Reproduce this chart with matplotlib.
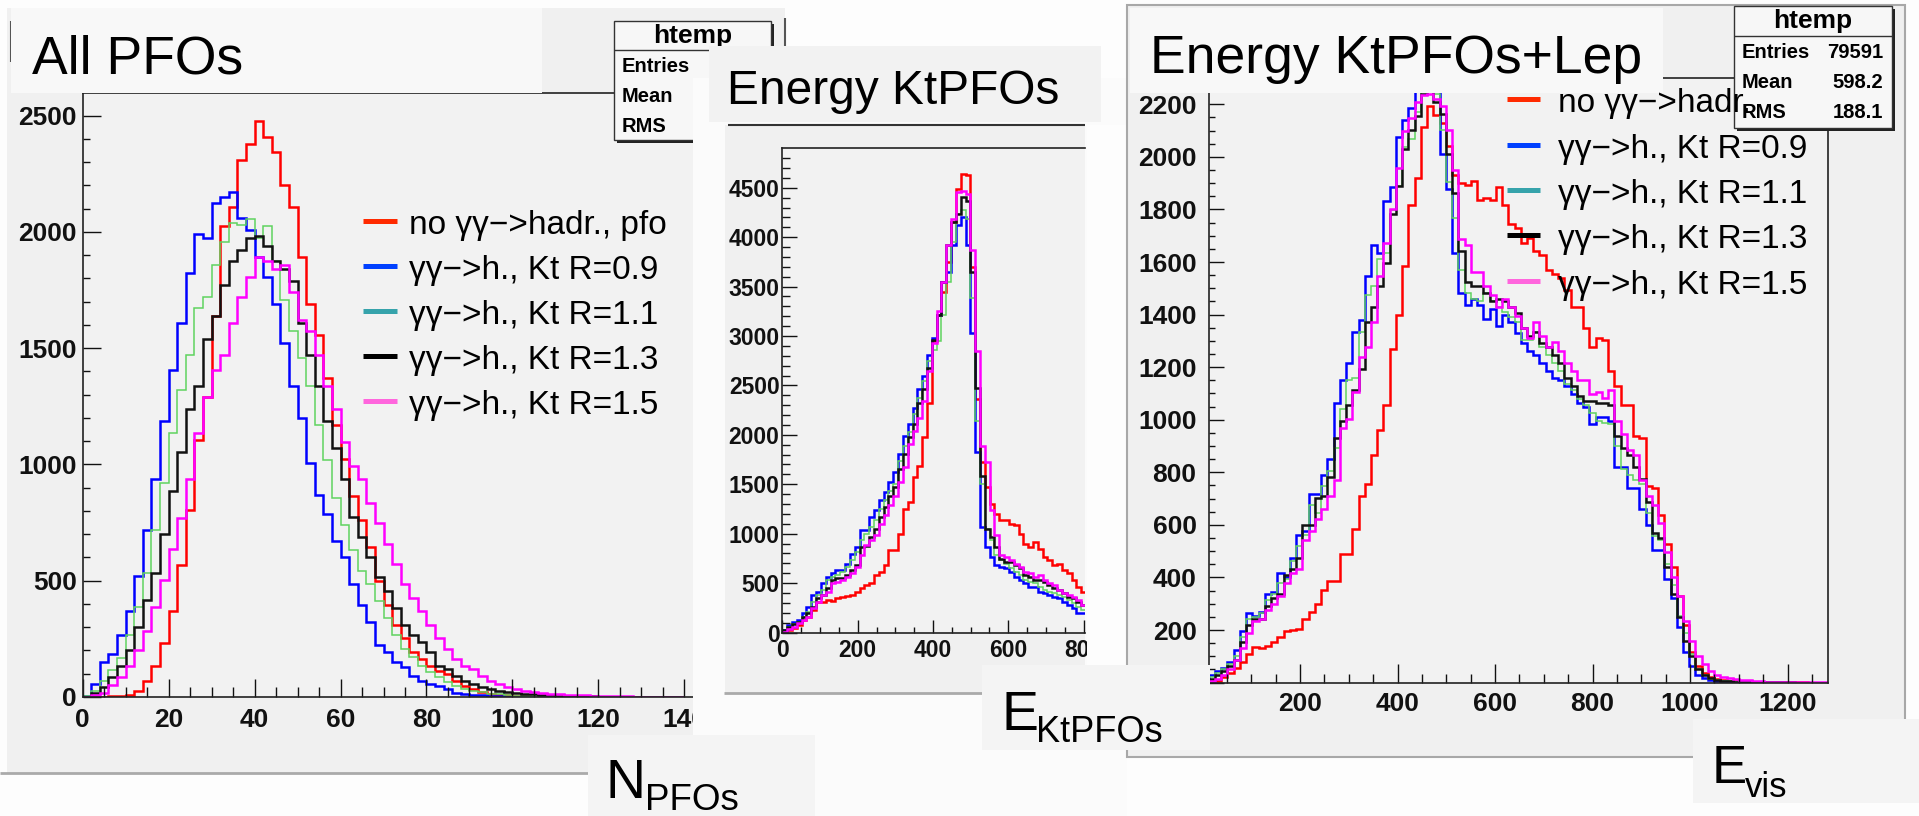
import numpy as np
from matplotlib import pyplot as plt
from matplotlib.patches import Rectangle
from matplotlib.lines import Line2D
from matplotlib.ticker import MultipleLocator

plt.rcParams['font.family'] = ['Liberation Sans', 'DejaVu Sans']
plt.rcParams['font.weight'] = 'bold'

W, H = 1919, 816

# ---- panel 1: number of PFOs, bins of width 2 starting at 0
NPFO_BIN = 2
npfo_red = [0, 0, 2, 3, 5, 10, 25, 67, 134, 234,
            368, 569, 803, 1104, 1288, 1640, 2024, 2108, 2309, 2376,
            2476, 2409, 2342, 2200, 2108, 1890, 1690, 1556, 1372, 1170,
            1023, 863, 761, 645, 499, 397, 310, 252, 194, 164,
            135, 113, 99, 70, 48, 33, 22, 15, 10, 7,
            5, 3, 2, 2, 1, 1, 1, 1, 0, 0,
            0, 0, 0, 0, 0, 0, 0, 0, 0, 0]
npfo_blue = [5, 58, 150, 184, 268, 368, 519, 719, 937, 1188,
             1405, 1606, 1824, 1991, 1974, 2125, 2150, 2170, 2058, 2008,
             1890, 1807, 1690, 1522, 1338, 1200, 1004, 870, 786, 669,
             601, 485, 397, 324, 223, 194, 150, 128, 92, 70,
             55, 48, 33, 19, 15, 10, 7, 5, 3, 2,
             1, 1, 1, 1, 0, 0, 0, 0, 0, 0,
             0, 0, 0, 0, 0, 0, 0, 0, 0, 0]
npfo_green = [3, 25, 67, 117, 167, 268, 385, 535, 719, 920,
              1137, 1321, 1471, 1672, 1722, 1856, 1956, 2039, 2031, 2056,
              1974, 2023, 1873, 1707, 1573, 1456, 1338, 1171, 1021, 854,
              740, 630, 543, 485, 412, 339, 266, 208, 172, 135,
              106, 84, 63, 48, 33, 26, 20, 15, 11, 8,
              6, 4, 3, 2, 2, 1, 1, 1, 1, 0,
              0, 0, 0, 0, 0, 0, 0, 0, 0, 0]
npfo_black = [2, 17, 42, 84, 134, 201, 301, 418, 535, 702,
              886, 1054, 1238, 1338, 1539, 1640, 1773, 1873, 1923, 1974,
              1980, 1940, 1873, 1840, 1790, 1606, 1471, 1338, 1188, 1071,
              936, 776, 688, 601, 514, 455, 383, 310, 266, 237,
              194, 135, 121, 92, 70, 55, 41, 33, 26, 22,
              18, 15, 12, 10, 8, 6, 5, 4, 3, 3,
              2, 2, 2, 1, 1, 1, 1, 1, 0, 0]
npfo_magenta = [0, 8, 17, 50, 84, 134, 201, 284, 385, 502,
                635, 770, 937, 1137, 1288, 1405, 1471, 1606, 1722, 1807,
                1890, 1873, 1840, 1857, 1740, 1623, 1573, 1471, 1338, 1238,
                1096, 994, 936, 834, 746, 659, 572, 485, 426, 368,
                310, 252, 208, 164, 135, 121, 92, 70, 55, 41,
                33, 26, 22, 18, 15, 12, 10, 8, 7, 6,
                5, 4, 3, 3, 2, 2, 2, 1, 1, 1]

# ---- panel 2: energy of Kt PFOs, bins of 12.8 starting at 0
E_BIN = 12.8
ekt_red = [10, 27, 44, 77, 128, 161, 228, 312, 312, 329,
           320, 346, 362, 369, 379, 413, 446, 480, 497, 581,
           614, 681, 832, 832, 1000, 1252, 1319, 1571, 1688, 1973,
           2326, 2947, 3215, 3450, 3752, 4155, 4490, 4641, 4624, 3702,
           2359, 1722, 1470, 1302, 1201, 1134, 1134, 1101, 1084, 1000,
           899, 866, 916, 849, 765, 732, 681, 698, 631, 597,
           530, 463, 413]
ekt_blue = [27, 77, 111, 128, 195, 262, 379, 413, 497, 564,
            597, 631, 631, 698, 799, 866, 1034, 1034, 1168, 1235,
            1336, 1420, 1520, 1621, 1806, 1990, 2108, 2275, 2460, 2594,
            2812, 2980, 3215, 3551, 3651, 3920, 4121, 4205, 3920, 3030,
            1822, 1067, 866, 765, 681, 664, 648, 614, 564, 530,
            497, 463, 463, 413, 396, 379, 362, 346, 312, 279,
            245, 195, 195]
ekt_green = [20, 54, 87, 111, 154, 211, 312, 379, 430, 530,
             564, 581, 614, 664, 732, 815, 933, 1000, 1067, 1134,
             1252, 1336, 1436, 1503, 1738, 1889, 2024, 2208, 2376, 2544,
             2745, 2863, 2947, 3215, 3551, 3953, 4239, 4272, 4188, 3383,
             2141, 1503, 1050, 933, 782, 732, 698, 648, 614, 581,
             530, 513, 497, 463, 430, 413, 396, 379, 362, 329,
             295, 262, 228]
ekt_black = [27, 60, 87, 111, 161, 195, 262, 346, 379, 446,
             530, 547, 547, 581, 631, 681, 866, 873, 967, 1050,
             1168, 1269, 1386, 1470, 1655, 1806, 1973, 2108, 2326, 2460,
             2678, 2963, 3215, 3551, 3920, 4155, 4239, 4406, 4363, 3651,
             2477, 1587, 1050, 967, 866, 748, 715, 715, 681, 648,
             581, 564, 530, 530, 513, 480, 446, 430, 396, 362,
             346, 312, 279]
ekt_magenta = [10, 34, 60, 94, 128, 161, 245, 312, 379, 413,
               497, 513, 530, 564, 597, 664, 782, 883, 933, 983,
               1101, 1185, 1285, 1386, 1520, 1671, 1906, 2040, 2175, 2342,
               2644, 2930, 3249, 3551, 3920, 4188, 4457, 4463, 4440, 3869,
               2846, 1889, 1722, 1235, 983, 782, 765, 732, 698, 664,
               614, 597, 564, 581, 530, 497, 480, 430, 396, 379,
               362, 329, 279]

# ---- panel 3: visible energy incl. leptons, bins of 12.8 starting at 12.8
evis_red = [6, 6, 21, 35, 57, 79, 109, 134, 131, 138,
            153, 172, 197, 201, 204, 241, 270, 299, 351, 387,
            387, 490, 490, 585, 710, 754, 864, 960, 1055, 1268,
            1400, 1583, 1818, 1921, 2112, 2192, 2160, 2130, 2040, 1930,
            1900, 1892, 1910, 1835, 1845, 1835, 1884, 1818, 1745, 1730,
            1671, 1693, 1642, 1627, 1569, 1554, 1539, 1495, 1429, 1429,
            1349, 1275, 1312, 1305, 1187, 1128, 1055, 1055, 938, 930,
            747, 740, 637, 527, 439, 329, 219, 116, 65, 35,
            21, 13, 9, 6, 5, 4, 3, 3, 2, 2,
            2, 3, 2, 1, 1, 1, 0, 0, 0]
evis_blue = [28, 43, 57, 79, 123, 197, 263, 255, 270, 336,
             343, 417, 402, 475, 563, 578, 718, 718, 791, 850,
             1062, 1150, 1216, 1334, 1378, 1547, 1664, 1635, 1833, 1884,
             2075, 2141, 2185, 2255, 2330, 2320, 2280, 2009, 1877, 1635,
             1481, 1437, 1459, 1437, 1385, 1422, 1356, 1400, 1370, 1330,
             1290, 1260, 1246, 1216, 1187, 1158, 1150, 1128, 1099, 1062,
             1048, 982, 1011, 1011, 996, 820, 820, 740, 740, 659,
             600, 505, 505, 395, 321, 211, 116, 65, 28, 16,
             10, 7, 5, 4, 3, 2, 2, 1, 1, 1,
             1, 1, 0, 0, 0, 0, 0, 0, 0]
evis_green = [21, 35, 50, 72, 101, 175, 241, 248, 263, 314,
              336, 380, 395, 461, 519, 563, 674, 644, 747, 806,
              894, 1040, 1150, 1158, 1334, 1473, 1510, 1613, 1635, 1796,
              1891, 2038, 2068, 2170, 2250, 2290, 2240, 2104, 1906, 1767,
              1569, 1481, 1459, 1451, 1481, 1451, 1429, 1410, 1390, 1370,
              1305, 1305, 1334, 1275, 1246, 1216, 1187, 1136, 1114, 1077,
              1055, 1026, 996, 989, 982, 901, 813, 791, 769, 754,
              644, 556, 541, 453, 373, 255, 189, 109, 50, 28,
              13, 9, 6, 5, 4, 3, 2, 2, 1, 1,
              1, 1, 1, 0, 0, 0, 0, 0, 0]
evis_black = [13, 28, 43, 65, 87, 153, 219, 241, 241, 292,
              321, 336, 409, 431, 475, 600, 600, 703, 710, 784,
              930, 996, 1055, 1114, 1194, 1371, 1429, 1510, 1598, 1781,
              1891, 2031, 2104, 2156, 2240, 2270, 2210, 2163, 2009, 1862,
              1642, 1525, 1510, 1510, 1481, 1451, 1458, 1451, 1429, 1407,
              1349, 1319, 1334, 1290, 1275, 1246, 1216, 1158, 1128, 1092,
              1070, 1070, 1062, 1062, 1055, 938, 894, 864, 820, 776,
              688, 571, 549, 439, 336, 248, 160, 101, 50, 28,
              16, 10, 7, 5, 4, 3, 2, 2, 1, 1,
              1, 1, 1, 1, 0, 0, 0, 0, 0]
evis_magenta = [6, 13, 28, 50, 87, 131, 190, 233, 241, 277,
                299, 329, 380, 417, 431, 541, 578, 622, 659, 710,
                769, 967, 1004, 1106, 1238, 1275, 1371, 1547, 1671, 1803,
                1957, 2097, 2148, 2207, 2235, 2240, 2220, 2192, 2104, 1950,
                1686, 1664, 1561, 1561, 1510, 1473, 1429, 1459, 1429, 1393,
                1349, 1312, 1371, 1319, 1275, 1297, 1260, 1216, 1187, 1150,
                1150, 1099, 1106, 1084, 1114, 996, 945, 886, 864, 769,
                710, 674, 607, 497, 402, 329, 233, 160, 101, 72,
                43, 28, 21, 16, 12, 10, 8, 6, 5, 4,
                3, 3, 2, 2, 2, 1, 1, 1, 1]

legend_pfo = ["no \u03b3\u03b3\u2212>hadr., pfo", "\u03b3\u03b3\u2212>h., Kt R=0.9",
              "\u03b3\u03b3\u2212>h., Kt R=1.1", "\u03b3\u03b3\u2212>h., Kt R=1.3",
              "\u03b3\u03b3\u2212>h., Kt R=1.5"]
legend_lep = ["no \u03b3\u03b3\u2212>hadr."] + legend_pfo[1:]
stats_names = ["Entries", "Mean", "RMS"]
stats_lep = ["79591", "598.2", "188.1"]

hist_colors = ['#ff0000', '#0000ff', '#5fd35f', '#111111', '#ff00ff']
hist_widths = [1.8, 1.8, 1.1, 1.8, 1.8]
leg_colors = ['#ff2a00', '#0040ff', '#36a3ab', '#000000', '#ff66dd']

fig = plt.figure(figsize=(W / 100, H / 100), dpi=100)
fig.patch.set_facecolor('#fdfdfd')


# everything is placed in screen pixels measured from the top-left corner
def box(x0, y0, x1, y1, fc, z, ec='none', lw=0):
    fig.add_artist(Rectangle((x0 / W, 1 - y1 / H), (x1 - x0) / W, (y1 - y0) / H,
                             transform=fig.transFigure, facecolor=fc,
                             edgecolor=ec, linewidth=lw, zorder=z))


def line(x0, y0, x1, y1, color, lw, z):
    fig.add_artist(Line2D([x0 / W, x1 / W], [1 - y0 / H, 1 - y1 / H],
                          transform=fig.transFigure, color=color, lw=lw,
                          zorder=z, solid_capstyle='butt'))


def text(x, y, s, size, z, weight='normal', **kw):
    fig.text(x / W, 1 - y / H, s, fontsize=size, fontweight=weight, zorder=z, **kw)


def make_axes(x0, y0, x1, y1, z, xlim, ylim):
    ax = fig.add_axes([x0 / W, 1 - y1 / H, (x1 - x0) / W, (y1 - y0) / H])
    ax.set_zorder(z)
    ax.set_facecolor('#f2f2f2')
    ax.set_xlim(*xlim)
    ax.set_ylim(*ylim)
    for s in ax.spines.values():
        s.set_color('#222222')
        s.set_linewidth(1.2)
    return ax


def ticks(ax, xmaj, xmin, ymaj, ymin, size, xpad, ypad, xl, yl):
    ax.xaxis.set_major_locator(MultipleLocator(xmaj))
    ax.xaxis.set_minor_locator(MultipleLocator(xmin))
    ax.yaxis.set_major_locator(MultipleLocator(ymaj))
    ax.yaxis.set_minor_locator(MultipleLocator(ymin))
    ax.tick_params(axis='both', which='both', direction='in', width=1, colors='#111111',
                   labelsize=size, top=False, right=False)
    ax.tick_params(axis='x', which='major', length=xl[0], pad=xpad)
    ax.tick_params(axis='x', which='minor', length=xl[1])
    ax.tick_params(axis='y', which='major', length=yl[0], pad=ypad)
    ax.tick_params(axis='y', which='minor', length=yl[1])


def draw_hists(ax, edges, series):
    for vals, c, w in zip(series, hist_colors, hist_widths):
        ax.stairs(vals, edges, color=c, linewidth=w)


def legend(x0, x1, xt, rows, labels, z):
    for y, lab, c in zip(rows, labels, leg_colors):
        line(x0, y, x1, y, c, 3.6, z)
        text(xt, y + 13, lab, 24, z, va='baseline', ha='left')


def stats(x0, y0, x1, y1, yhead, rows, values, z):
    box(x0 + 3, y0 + 3, x1 + 3, y1 + 3, '#222222', z)
    box(x0, y0, x1, y1, '#f7f7f7', z + 0.1, ec='#333333', lw=1)
    line(x0, yhead, x1, yhead, '#333333', 1, z + 0.2)
    text((x0 + x1) / 2, (y0 + yhead) / 2, 'htemp', 19, z + 0.2, weight='bold',
         ha='center', va='center')
    for i, (name, y) in enumerate(zip(stats_names, rows)):
        text(x0 + 8, y, name, 14.5, z + 0.2, weight='bold', va='center')
        if values:
            text(x1 - 9, y, values[i], 14.5, z + 0.2, weight='bold', va='center', ha='right')


# ---------------- panel 1
box(7, 8, 785, 773, '#f0f0f0', 1)
line(0, 773, 588, 773, '#aaaaaa', 2, 1.1)
line(11, 21, 11, 62, '#555555', 1.5, 1.1)
line(785, 18, 785, 47, '#555555', 1.5, 1.1)
ax1 = make_axes(82.6, 93, 693, 697, 2, (0, 142), (0, 2597))
ax1.spines['right'].set_visible(False)
ticks(ax1, 20, 5, 500, 100, 19, 8, 4.3, (13, 7), (13, 5))
draw_hists(ax1, NPFO_BIN * np.arange(len(npfo_red) + 1),
           [npfo_red, npfo_blue, npfo_green, npfo_black, npfo_magenta])
box(11, 8, 542, 93, '#f8f8f8', 3)
text(32, 73, 'All PFOs', 38.5, 3.1, va='baseline')
stats(614, 21, 771, 140, 50, [67, 97, 127], None, 3.2)
legend(363, 397, 409, [221, 266, 311, 356, 401], legend_pfo, 4)

# ---------------- panel 2
box(693, 78, 1127, 816, '#fbfbfb', 10)
box(725, 125, 1085, 693, '#f0f0f0', 11)
line(724, 693, 982, 693, '#aaaaaa', 2, 11.1)
line(728, 125, 1085, 125, '#333333', 1.5, 11.1)
ax2 = make_axes(782.4, 148.3, 1085, 632.5, 12, (0, 803.7), (0, 4899))
ax2.spines['right'].set_visible(False)
ticks(ax2, 200, 50, 500, 100, 16.5, 5, 2, (9.5, 4.5), (10.5, 5.5))
draw_hists(ax2, E_BIN * np.arange(len(ekt_red) + 1),
           [ekt_red, ekt_blue, ekt_green, ekt_black, ekt_magenta])
box(1087, 125, 1127, 700, '#fdfdfd', 13)
box(709, 46, 1101, 122, '#f2f2f2', 13)
text(727, 104, 'Energy KtPFOs', 34.5, 13.1, va='baseline')

# x label of panel 1
box(588, 735, 815, 816, '#f4f4f4', 14)
text(606, 798, 'N', 40, 14.1, va='baseline')
text(645, 810, 'PFOs', 26.5, 14.1, va='baseline')

# ---------------- panel 3
box(1127, 5, 1905, 757, '#f0f0f0', 20, ec='#a8a8a8', lw=1.5)
ax3 = make_axes(1209, 78, 1828, 682.6, 21, (13.3, 1283), (0, 2300))
ticks(ax3, 200, 50, 200, 50, 19, 7, 9, (13.5, 6.5), (11, 4.5))
draw_hists(ax3, E_BIN * np.arange(1, len(evis_red) + 2),
           [evis_red, evis_blue, evis_green, evis_black, evis_magenta])
box(1130, 8, 1663, 93, '#f8f8f8', 22)
text(1150, 73, 'Energy KtPFOs+Lep', 38.5, 22.1, va='baseline')
stats(1734, 6, 1892, 128, 36, [53, 82, 112], stats_lep, 23)
legend(1507, 1540, 1558, [99, 145, 190, 235, 281], legend_lep, 24)

# x labels of panels 2 and 3
box(982, 665, 1210, 750, '#f4f4f4', 25)
text(1001, 730, 'E', 40, 25.1, va='baseline')
text(1036, 742, 'KtPFOs', 26, 25.1, va='baseline')
box(1693, 719, 1919, 803, '#f4f4f4', 25)
text(1712, 783, 'E', 38, 25.1, va='baseline')
text(1745, 797, 'vis', 25, 25.1, va='baseline')

fig.savefig('out.png', dpi=100, facecolor=fig.get_facecolor())
